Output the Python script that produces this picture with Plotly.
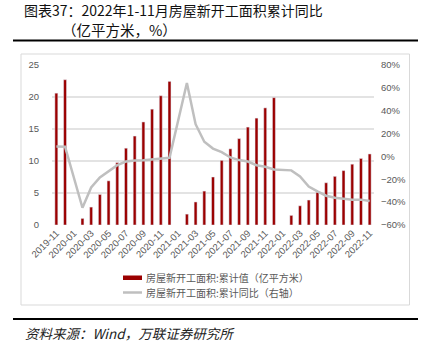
import plotly.graph_objects as go

months = []
y, m = 2019, 11
while (y, m) <= (2022, 11):
    months.append(f"{y}-{m:02d}")
    m += 1
    if m > 12:
        m = 1
        y += 1

area = [20.6, 22.7,
        None, 1.03, 2.8, 4.77, 6.9, 9.75, 12.0, 13.9, 16.1, 18.1, 20.2, 22.44,
        None, 1.7, 3.6, 5.3, 7.5, 10.1, 11.9, 13.5, 15.3, 16.7, 18.3, 19.9,
        None, 1.5, 3.0, 3.9, 5.1, 6.6, 7.6, 8.5, 9.5, 10.4, 11.1]
yoy = [8.6, 8.5,
       None, -44.9, -27.2, -18.4, -12.8, -7.6, -4.5, -3.6, -3.4, -2.7, -2.0, -1.2,
       None, 64.3, 28.2, 12.8, 6.9, 3.8, -0.9, -3.2, -4.5, -7.7, -9.1, -11.4,
       None, -12.2, -17.5, -26.3, -30.6, -34.4, -36.1, -37.2, -38.0, -37.8, -38.9]
tick_labels = months[::2]

title1 = "图表37：2022年1-11月房屋新开工面积累计同比"
title2 = "（亿平方米，%）"
legend_bar = "房屋新开工面积:累计值（亿平方米）"
legend_line = "房屋新开工面积:累计同比（右轴）"
source = "资料来源：Wind，万联证券研究所"

W, H = 423, 354
L, R, T, B = 52, 49, 65, 129
PW, PH = W - L - R, H - T - B

def px(x):
    return (x - L) / PW

def py(yv):
    return (T + PH - yv) / PH

CJK = "Noto Sans CJK SC"
TICKF = "Liberation Sans"

fig = go.Figure()
fig.add_trace(go.Bar(x=months, y=area, marker_color="#9B0000", width=0.34,
                     showlegend=False))
fig.add_trace(go.Scatter(x=months, y=yoy, yaxis="y2", mode="lines",
                         connectgaps=True, line=dict(color="#BFBFBF", width=2.5),
                         showlegend=False))

shapes = [
    dict(type="rect", xref="paper", yref="paper", x0=px(21), x1=px(409.5),
         y0=py(54), y1=py(305), line=dict(color="#D9D9D9", width=1), layer="below"),
    dict(type="line", xref="paper", yref="paper", x0=px(13), x1=px(418),
         y0=py(40.5), y1=py(40.5), line=dict(color="#000000", width=2.2)),
    dict(type="line", xref="paper", yref="paper", x0=px(13), x1=px(418),
         y0=py(319), y1=py(319), line=dict(color="#000000", width=2.2)),
    dict(type="rect", xref="paper", yref="paper", x0=px(123), x1=px(142),
         y0=py(280), y1=py(275.5), fillcolor="#9B0000", line=dict(width=0)),
    dict(type="line", xref="paper", yref="paper", x0=px(123), x1=px(142),
         y0=py(292.5), y1=py(292.5), line=dict(color="#BFBFBF", width=2.5)),
]

annotations = [
    dict(text=title1, xref="paper", yref="paper", x=px(22), y=py(10),
         xanchor="left", yanchor="middle", showarrow=False,
         font=dict(family=CJK, size=14, color="#111111")),
    dict(text=title2, xref="paper", yref="paper", x=px(60), y=py(29.5),
         xanchor="left", yanchor="middle", showarrow=False,
         font=dict(family=CJK, size=14.5, color="#111111")),
    dict(text=legend_bar, xref="paper", yref="paper", x=px(144), y=py(277.5),
         xanchor="left", yanchor="middle", showarrow=False,
         font=dict(family=CJK, size=10, color="#595959")),
    dict(text=legend_line, xref="paper", yref="paper", x=px(144), y=py(292.5),
         xanchor="left", yanchor="middle", showarrow=False,
         font=dict(family=CJK, size=10, color="#595959")),
    dict(text="<i>" + source + "</i>", xref="paper", yref="paper", x=px(23), y=py(333),
         xanchor="left", yanchor="middle", showarrow=False,
         font=dict(family=CJK, size=13.5, color="#222222")),
]

fig.update_layout(
    width=W, height=H,
    margin=dict(l=L, r=R, t=T, b=B, autoexpand=False),
    paper_bgcolor="white", plot_bgcolor="white",
    bargap=0.6,
    shapes=shapes, annotations=annotations,
    xaxis=dict(type="category", tickmode="array", tickvals=tick_labels,
               ticktext=tick_labels, tickangle=-45, showgrid=False,
               showline=False, ticks="", range=[-0.5, len(months) - 0.5],
               tickfont=dict(family=TICKF, size=9.5, color="#595959"), automargin=False),
    yaxis=dict(range=[0, 25], dtick=5, showgrid=True, gridcolor="#E3E3E3",
               gridwidth=1.5, zeroline=False, showline=False, ticks="",
               tickfont=dict(family=TICKF, size=9.5, color="#595959"), automargin=False,
               ticklabelstandoff=12),
    yaxis2=dict(range=[-60, 80], dtick=20, overlaying="y", side="right",
                showgrid=False, zeroline=False, showline=False, ticksuffix="%",
                tickfont=dict(family=TICKF, size=9.5, color="#595959"), automargin=False,
                ticklabelstandoff=6),
)

fig.write_html("out.html")
